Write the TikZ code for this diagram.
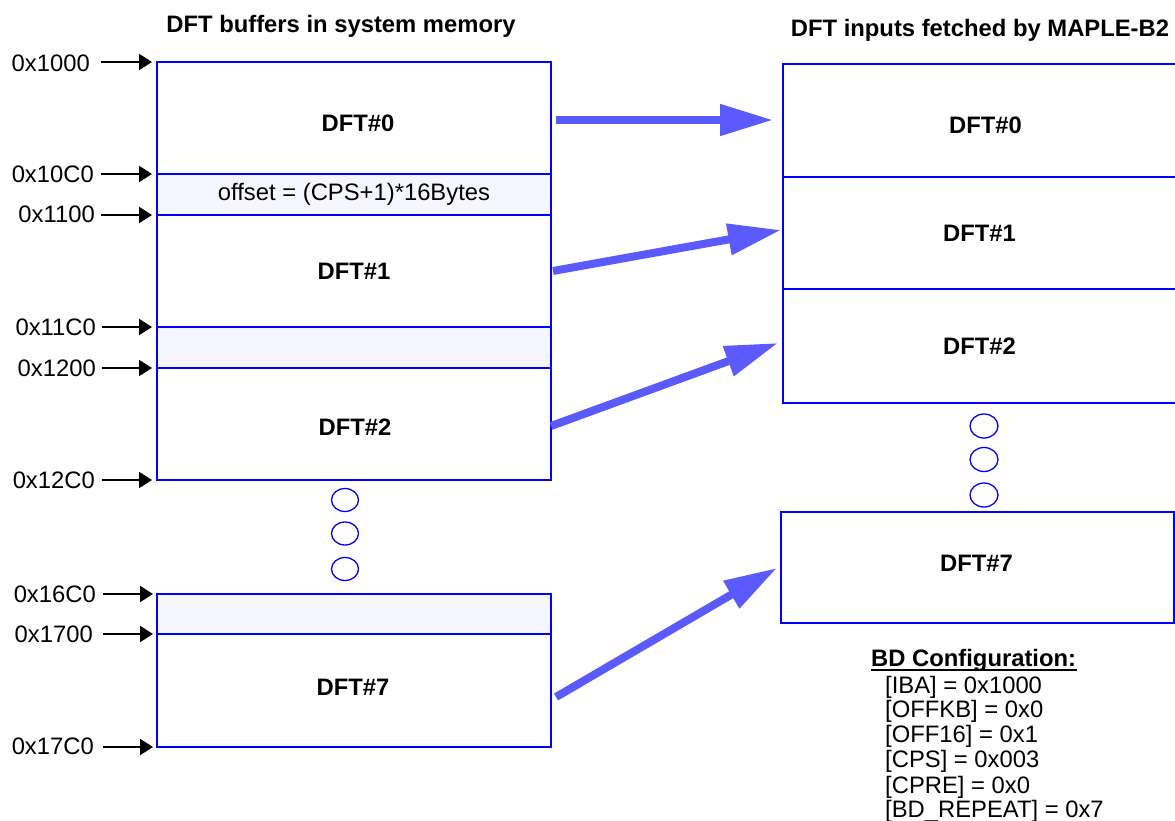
\documentclass[tikz,border=0pt]{standalone}
\usepackage{fontspec}
\setmainfont{Liberation Sans}
\usetikzlibrary{arrows.meta,calc}
\definecolor{boxblue}{RGB}{0,0,255}
\definecolor{arrblue}{RGB}{90,90,255}
\definecolor{gapfill}{RGB}{245,246,255}
\begin{document}
\begin{tikzpicture}[x=1pt,y=-1pt,
  regtxt/.style={font=\fontsize{23.8}{25}\selectfont, inner sep=0pt},
  boldtxt/.style={font=\fontsize{23.8}{25}\selectfont\bfseries, inner sep=0pt},
  membox/.style={draw=boxblue, line width=2.2pt, minimum width=394pt, inner sep=0pt,
    outer sep=0pt, fill=white, font=\fontsize{23.8}{25}\selectfont\bfseries},
  gapbox/.style={membox, fill=gapfill, font=\fontsize{23.8}{25}\selectfont},
  dotring/.style={draw=boxblue, line width=1.3pt},
  addr/.style={draw=black, line width=2.2pt, -{Triangle[length=13pt,width=16pt]}},
  fetch/.style={draw=arrblue, line width=8pt, -{Triangle[length=53pt,width=30pt]}}
]
\useasboundingbox (0,0) rectangle (1175,821);

% titles
\node[boldtxt, anchor=base] (tl) at (341,33) {DFT buffers in system memory};
\node[boldtxt, anchor=base] (tr) at (980,37) {DFT inputs fetched by MAPLE-B2};

% left memory buffers
\node[membox, minimum height=112pt] (l0) at (354,118) {};
\node[gapbox, minimum height=41pt] (lg1) at (354,194.5) {offset = (CPS+1)*16Bytes};
\node[membox, minimum height=112pt] (l1) at (354,271) {DFT\#1};
\node[gapbox, minimum height=41pt] (lg2) at (354,347.5) {};
\node[membox, minimum height=112pt] (l2) at (354,424) {};
\node[gapbox, minimum height=40pt] (lg7) at (354,614) {};
\node[membox, minimum height=113pt] (l7) at (354,690.5) {};
\node[boldtxt] (l0t) at ($(l0.center)+(4,5)$) {DFT\#0};
\node[boldtxt] (l2t) at ($(l2.center)+(1,3)$) {DFT\#2};
\node[boldtxt] (l7t) at ($(l7.center)+(-1,-3)$) {DFT\#7};

\draw[dotring] (345,500) ellipse [x radius=13.5pt, y radius=11.5pt];
\draw[dotring] (345,533.5) ellipse [x radius=13.5pt, y radius=11.5pt];
\draw[dotring] (345,569) ellipse [x radius=13.5pt, y radius=11.5pt];

% address labels
\node[regtxt, anchor=east] (a0) at (90,63) {0x1000};
\node[regtxt, anchor=east] (a1) at (94,174) {0x10C0};
\node[regtxt, anchor=east] (a2) at (95,214) {0x1100};
\node[regtxt, anchor=east] (a3) at (96,327) {0x11C0};
\node[regtxt, anchor=east] (a4) at (96,368) {0x1200};
\node[regtxt, anchor=east] (a5) at (95,480) {0x12C0};
\node[regtxt, anchor=east] (a6) at (96,594) {0x16C0};
\node[regtxt, anchor=east] (a7) at (93,634) {0x1700};
\node[regtxt, anchor=east] (a8) at (94,746) {0x17C0};

\draw[addr] ($(l0.north west)+(-56,0)$) -- ($(l0.north west)+(-5,0)$);
\draw[addr] ($(lg1.north west)+(-56,0)$) -- ($(lg1.north west)+(-5,0)$);
\draw[addr] ($(lg1.south west)+(-56,0)$) -- ($(lg1.south west)+(-5,0)$);
\draw[addr] ($(lg2.north west)+(-55,0)$) -- ($(lg2.north west)+(-5,0)$);
\draw[addr] ($(lg2.south west)+(-55,0)$) -- ($(lg2.south west)+(-5,0)$);
\draw[addr] ($(l2.south west)+(-55,0)$) -- ($(l2.south west)+(-5,0)$);
\draw[addr] ($(lg7.north west)+(-54,0)$) -- ($(lg7.north west)+(-4,0)$);
\draw[addr] ($(lg7.south west)+(-54,0)$) -- ($(lg7.south west)+(-4,0)$);
\draw[addr] ($(l7.south west)+(-54,0)$) -- ($(l7.south west)+(-4,0)$);

% right fetched inputs
\node[membox, minimum width=393pt, minimum height=113pt] (r0) at (979.5,120.5) {};
\node[membox, minimum width=393pt, minimum height=112pt] (r1) at (979.5,233) {DFT\#1};
\node[membox, minimum width=393pt, minimum height=114pt] (r2) at (979.5,346) {DFT\#2};
\node[membox, minimum width=393pt, minimum height=111pt] (r7) at (977.5,567.5) {};
\node[boldtxt] (r0t) at ($(r0.center)+(6,5)$) {DFT\#0};
\node[boldtxt] (r7t) at ($(r7.center)+(-1,-4)$) {DFT\#7};

\draw[dotring] (984,426) ellipse [x radius=14pt, y radius=12pt];
\draw[dotring] (984,459.5) ellipse [x radius=14pt, y radius=12pt];
\draw[dotring] (984,495) ellipse [x radius=14pt, y radius=12pt];

% fetch arrows
\coordinate (s0) at (556,120);  \coordinate (e0) at (773,120);
\coordinate (s1) at (553,271);  \coordinate (e1) at (781,230);
\coordinate (s2) at (551,426);  \coordinate (e2) at (778,343);
\coordinate (s7) at (556,697);  \coordinate (e7) at (777,568);
\draw[fetch] (s0) -- (e0);
\draw[fetch] (s1) -- (e1);
\draw[fetch] (s2) -- (e2);
\draw[fetch] (s7) -- (e7);

% BD configuration
\node[boldtxt, anchor=base west] (bd) at (871,666) {BD Configuration:};
\draw[line width=2pt] ($(bd.base west)+(0,4)$) -- ($(bd.base east)+(1,4)$);
\node[regtxt, anchor=base west] (c1) at (885,693) {[IBA] = 0x1000};
\node[regtxt, anchor=base west] (c2) at (885,717) {[OFFKB] = 0x0};
\node[regtxt, anchor=base west] (c3) at (885,742) {[OFF16] = 0x1};
\node[regtxt, anchor=base west] (c4) at (885,767) {[CPS] = 0x003};
\node[regtxt, anchor=base west] (c5) at (885,793) {[CPRE] = 0x0};
\node[regtxt, anchor=base west] (c6) at (885,817) {[BD\_REPEAT] = 0x7};
\end{tikzpicture}
\end{document}
